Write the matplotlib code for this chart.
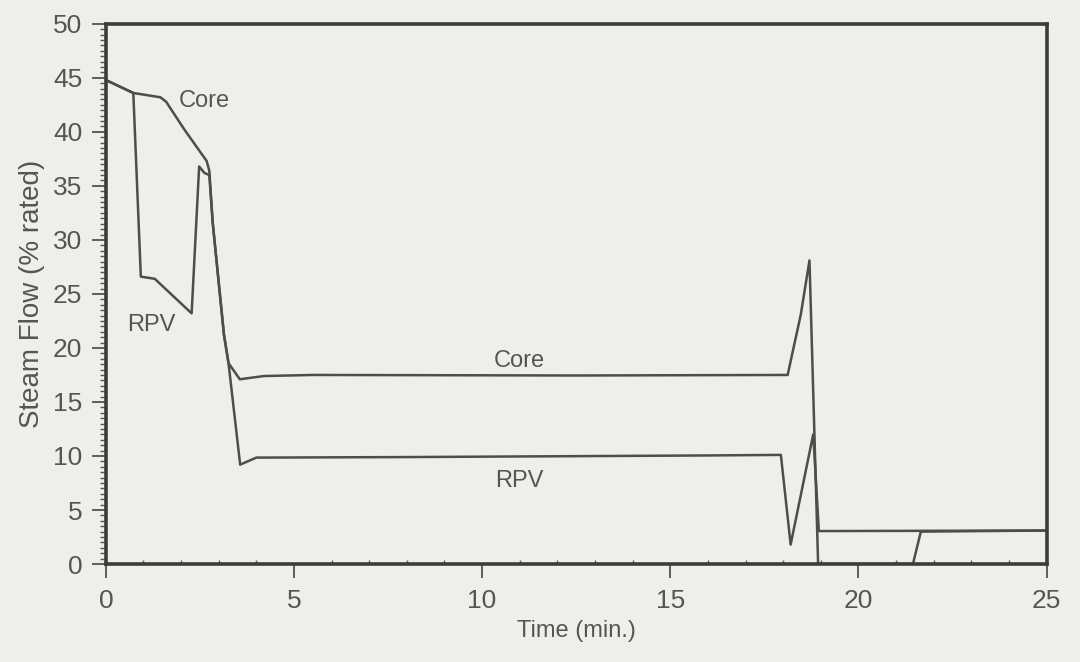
import matplotlib
matplotlib.use("Agg")
import matplotlib.pyplot as plt
from matplotlib.ticker import MultipleLocator

# steam flow transient, % of rated, vs time in minutes
core_t = [0.0, 0.73, 1.45, 1.6, 2.09, 2.68, 2.75, 2.84, 3.14, 3.26, 3.56, 4.2, 5.5,
          12.5, 18.12, 18.47, 18.70, 18.93, 21.45, 21.66, 25.0]
core_v = [44.8, 43.6, 43.2, 42.8, 40.2, 37.3, 36.4, 31.6, 21.2, 18.6, 17.1, 17.4, 17.5,
          17.45, 17.5, 23.1, 28.1, 0.0, 0.0, 3.0, 3.1]

rpv_t = [0.0, 0.73, 0.93, 1.30, 2.28, 2.48, 2.62, 2.75, 2.84, 3.14, 3.26, 3.57, 4.0,
         8.0, 16.0, 17.94, 18.2, 18.8, 18.95, 25.0]
rpv_v = [44.8, 43.6, 26.6, 26.4, 23.2, 36.8, 36.2, 36.0, 31.6, 21.2, 18.6, 9.2, 9.85,
         9.9, 10.05, 10.1, 1.8, 12.0, 3.05, 3.1]

ink = "#4d4d4d"
paper = "#eeeeeb"

plt.rcParams["font.family"] = ["Liberation Sans", "DejaVu Sans"]

fig = plt.figure(figsize=(10.8, 6.62), dpi=100, facecolor=paper)
ax = fig.add_axes([0.098, 0.148, 0.871, 0.816], facecolor=paper)

ax.plot(core_t, core_v, color=ink, lw=1.8)
ax.plot(rpv_t, rpv_v, color=ink, lw=1.8)

ax.text(1.95, 42.9, "Core", fontsize=17, color="#555555", ha="left", va="center")
ax.text(1.21, 22.1, "RPV", fontsize=17, color="#555555", ha="center", va="center")
ax.text(11.0, 18.8, "Core", fontsize=17, color="#555555", ha="center", va="center")
ax.text(11.0, 7.7, "RPV", fontsize=17, color="#555555", ha="center", va="center")

ax.set_xlim(0, 25)
ax.set_ylim(0, 50)
ax.xaxis.set_major_locator(MultipleLocator(5))
ax.xaxis.set_minor_locator(MultipleLocator(1))
ax.yaxis.set_major_locator(MultipleLocator(5))
ax.yaxis.set_minor_locator(MultipleLocator(0.5))

for s in ax.spines.values():
    s.set_linewidth(2.6)
    s.set_color("#3c3c3c")

ax.tick_params(axis="both", which="major", direction="out", length=10, width=1.2,
               color="#444444", labelsize=19, labelcolor="#555555")
ax.tick_params(axis="x", which="major", pad=8)
ax.tick_params(axis="y", which="major", pad=7)
ax.tick_params(axis="y", which="minor", direction="out", length=4, width=1.0, color="#555555")
ax.tick_params(axis="x", which="minor", direction="in", length=3, width=1.0, color="#555555")

ax.set_xlabel("Time (min.)", fontsize=17, color="#555555", labelpad=5)
ax.set_ylabel("Steam Flow (% rated)", fontsize=20, color="#555555", labelpad=6)

fig.savefig("out.png", dpi=100, facecolor=paper)
